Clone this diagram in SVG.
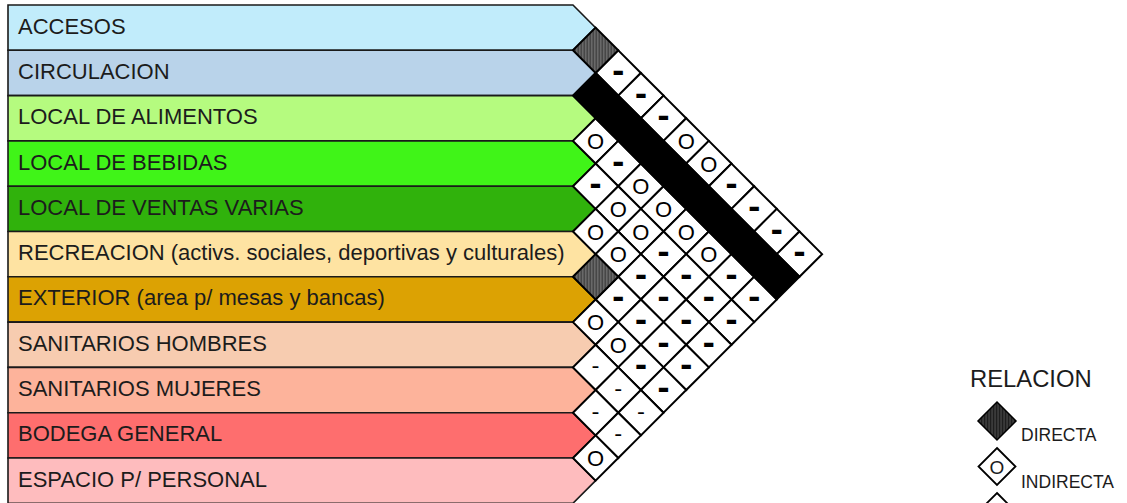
<svg xmlns="http://www.w3.org/2000/svg" xmlns:xlink="http://www.w3.org/1999/xlink" width="1127" height="503" viewBox="0 0 1127 503">
<style>
.row{stroke:#1a1a1a;stroke-width:1.6;stroke-linejoin:miter}
.lbl{font-family:"Liberation Sans",Arial,sans-serif;font-size:22px;fill:#1c1c1c}
.cell{fill:#fff;stroke:#000;stroke-width:2}
.dir{fill:url(#hatch);stroke:#000;stroke-width:2}
.db{font-family:"DejaVu Sans",sans-serif;font-weight:bold;font-size:30px;text-anchor:middle;fill:#000}
.ds{font-family:"DejaVu Sans",sans-serif;font-size:22px;text-anchor:middle;fill:#000}
.o{font-family:"Liberation Sans",Arial,sans-serif;font-size:22px;text-anchor:middle;fill:#000}
.leg{font-family:"Liberation Sans",Arial,sans-serif;fill:#1c1c1c}
</style>
<defs>
<pattern id="hatch" width="3" height="6" patternUnits="userSpaceOnUse">
<rect width="3" height="6" fill="#707070"/>
<rect width="1.2" height="6" fill="#333"/>
</pattern>
<pattern id="hatch2" width="3" height="6" patternUnits="userSpaceOnUse">
<rect width="3" height="6" fill="#3a3a3a"/>
<rect width="1.2" height="6" fill="#1e1e1e"/>
</pattern>
<path id="cell" d="M-22.65 0L0 -22.65L22.65 0L0 22.65Z"/>
</defs>
<rect width="1127" height="503" fill="#fff"/>

<g id="row-accesos"><path class="row" fill="#c1ecfb" d="M8 5H572.95L595.6 27.65L572.95 50.3H8Z"/><text class="lbl" x="18" y="33.65">ACCESOS</text></g>
<g id="row-circulacion"><path class="row" fill="#b9d3ea" d="M8 50.3H572.95L595.6 72.95L572.95 95.6H8Z"/><text class="lbl" x="18" y="78.95">CIRCULACION</text></g>
<g id="row-alimentos"><path class="row" fill="#b5fb7f" d="M8 95.6H572.95L595.6 118.25L572.95 140.9H8Z"/><text class="lbl" x="18" y="124.25">LOCAL DE ALIMENTOS</text></g>
<g id="row-bebidas"><path class="row" fill="#40f418" d="M8 140.9H572.95L595.6 163.55L572.95 186.2H8Z"/><text class="lbl" x="18" y="169.55">LOCAL DE BEBIDAS</text></g>
<g id="row-ventas"><path class="row" fill="#30b20c" d="M8 186.2H572.95L595.6 208.85L572.95 231.5H8Z"/><text class="lbl" x="18" y="214.85">LOCAL DE VENTAS VARIAS</text></g>
<g id="row-recreacion"><path class="row" fill="#fee3a2" d="M8 231.5H572.95L595.6 254.15L572.95 276.8H8Z"/><text class="lbl" x="18" y="260.15">RECREACION (activs. sociales, deportivas y culturales)</text></g>
<g id="row-exterior"><path class="row" fill="#dca203" d="M8 276.8H572.95L595.6 299.45L572.95 322.1H8Z"/><text class="lbl" x="18" y="305.45">EXTERIOR (area p/ mesas y bancas)</text></g>
<g id="row-sanh"><path class="row" fill="#f7ccb0" d="M8 322.1H572.95L595.6 344.75L572.95 367.4H8Z"/><text class="lbl" x="18" y="350.75">SANITARIOS HOMBRES</text></g>
<g id="row-sanm"><path class="row" fill="#fdb39b" d="M8 367.4H572.95L595.6 390.05L572.95 412.7H8Z"/><text class="lbl" x="18" y="396.05">SANITARIOS MUJERES</text></g>
<g id="row-bodega"><path class="row" fill="#fe6e6e" d="M8 412.7H572.95L595.6 435.35L572.95 458H8Z"/><text class="lbl" x="18" y="441.35">BODEGA GENERAL</text></g>
<g id="row-personal"><path class="row" fill="#febcbe" d="M8 458H572.95L595.6 480.65L572.95 503.3H8Z"/><text class="lbl" x="18" y="486.65">ESPACIO P/ PERSONAL</text></g>

<g id="relations">
<g class="cell">
<use href="#cell" x="618.25" y="72.95"/><use href="#cell" x="640.9" y="95.6"/><use href="#cell" x="663.55" y="118.25"/><use href="#cell" x="686.2" y="140.9"/><use href="#cell" x="708.85" y="163.55"/><use href="#cell" x="731.5" y="186.2"/><use href="#cell" x="754.15" y="208.85"/><use href="#cell" x="776.8" y="231.5"/><use href="#cell" x="799.45" y="254.15"/>
<use href="#cell" x="595.6" y="140.9"/><use href="#cell" x="618.25" y="163.55"/><use href="#cell" x="640.9" y="186.2"/><use href="#cell" x="663.55" y="208.85"/><use href="#cell" x="686.2" y="231.5"/><use href="#cell" x="708.85" y="254.15"/><use href="#cell" x="731.5" y="276.8"/><use href="#cell" x="754.15" y="299.45"/>
<use href="#cell" x="595.6" y="186.2"/><use href="#cell" x="618.25" y="208.85"/><use href="#cell" x="640.9" y="231.5"/><use href="#cell" x="663.55" y="254.15"/><use href="#cell" x="686.2" y="276.8"/><use href="#cell" x="708.85" y="299.45"/><use href="#cell" x="731.5" y="322.1"/>
<use href="#cell" x="595.6" y="231.5"/><use href="#cell" x="618.25" y="254.15"/><use href="#cell" x="640.9" y="276.8"/><use href="#cell" x="663.55" y="299.45"/><use href="#cell" x="686.2" y="322.1"/><use href="#cell" x="708.85" y="344.75"/>
<use href="#cell" x="618.25" y="299.45"/><use href="#cell" x="640.9" y="322.1"/><use href="#cell" x="663.55" y="344.75"/><use href="#cell" x="686.2" y="367.4"/>
<use href="#cell" x="595.6" y="322.1"/><use href="#cell" x="618.25" y="344.75"/><use href="#cell" x="640.9" y="367.4"/><use href="#cell" x="663.55" y="390.05"/>
<use href="#cell" x="595.6" y="367.4"/><use href="#cell" x="618.25" y="390.05"/><use href="#cell" x="640.9" y="412.7"/>
<use href="#cell" x="595.6" y="412.7"/><use href="#cell" x="618.25" y="435.35"/>
<use href="#cell" x="595.6" y="458"/>
</g>
<path fill="#000" stroke="#000" stroke-width="2" d="M572.95 95.6L595.6 72.95L799.45 276.8L776.8 299.45Z"/>
<g class="dir"><use href="#cell" x="595.6" y="50.3"/><use href="#cell" x="595.6" y="276.8"/></g>

<g>
<text class="db" x="618.25" y="81.95">-</text><text class="db" x="640.9" y="104.6">-</text><text class="db" x="663.55" y="127.25">-</text><text class="db" x="731.5" y="195.2">-</text><text class="db" x="754.15" y="217.85">-</text><text class="db" x="776.8" y="240.5">-</text><text class="db" x="799.45" y="263.15">-</text>
<text class="db" x="618.25" y="172.55">-</text><text class="db" x="731.5" y="285.8">-</text><text class="db" x="754.15" y="308.45">-</text>
<text class="db" x="595.6" y="195.2">-</text><text class="db" x="663.55" y="263.15">-</text><text class="db" x="686.2" y="285.8">-</text><text class="db" x="708.85" y="308.45">-</text><text class="db" x="731.5" y="331.1">-</text>
<text class="db" x="640.9" y="285.8">-</text><text class="db" x="663.55" y="308.45">-</text><text class="db" x="686.2" y="331.1">-</text><text class="db" x="708.85" y="353.75">-</text>
<text class="db" x="618.25" y="308.45">-</text><text class="db" x="640.9" y="331.1">-</text><text class="db" x="663.55" y="353.75">-</text><text class="db" x="686.2" y="376.4">-</text>
<text class="db" x="640.9" y="376.4">-</text><text class="db" x="663.55" y="399.05">-</text>
<text class="ds" x="595.6" y="373.4">-</text><text class="ds" x="618.25" y="396.05">-</text><text class="ds" x="640.9" y="418.7">-</text>
<text class="ds" x="595.6" y="418.7">-</text><text class="ds" x="618.25" y="441.35">-</text>
<text class="o" x="686.2" y="148.9">O</text><text class="o" x="708.85" y="171.55">O</text>
<text class="o" x="595.6" y="148.9">O</text><text class="o" x="640.9" y="194.2">O</text><text class="o" x="663.55" y="216.85">O</text><text class="o" x="686.2" y="239.5">O</text><text class="o" x="708.85" y="262.15">O</text>
<text class="o" x="618.25" y="216.85">O</text><text class="o" x="640.9" y="239.5">O</text>
<text class="o" x="595.6" y="239.5">O</text><text class="o" x="618.25" y="262.15">O</text>
<text class="o" x="595.6" y="330.1">O</text><text class="o" x="618.25" y="352.75">O</text>
<text class="o" x="595.6" y="466">O</text>
</g>
</g>

<g id="legend">
<text class="leg" x="970" y="387" font-size="23.8">RELACION</text>
<path d="M997 402L1016 421L997 440L978 421Z" fill="url(#hatch2)" stroke="#000" stroke-width="1.5"/>
<text class="leg" x="1021" y="441" font-size="17.5">DIRECTA</text>
<path d="M997 448L1015.5 466.5L997 485L978.5 466.5Z" fill="#fff" stroke="#000" stroke-width="1.8"/>
<text class="leg" x="997" y="473.5" font-size="19" text-anchor="middle">O</text>
<text class="leg" x="1021" y="488" font-size="17.5">INDIRECTA</text>
<path d="M997 493L1016 512L997 531L978 512Z" fill="#fff" stroke="#000" stroke-width="1.8"/>
</g>
</svg>
